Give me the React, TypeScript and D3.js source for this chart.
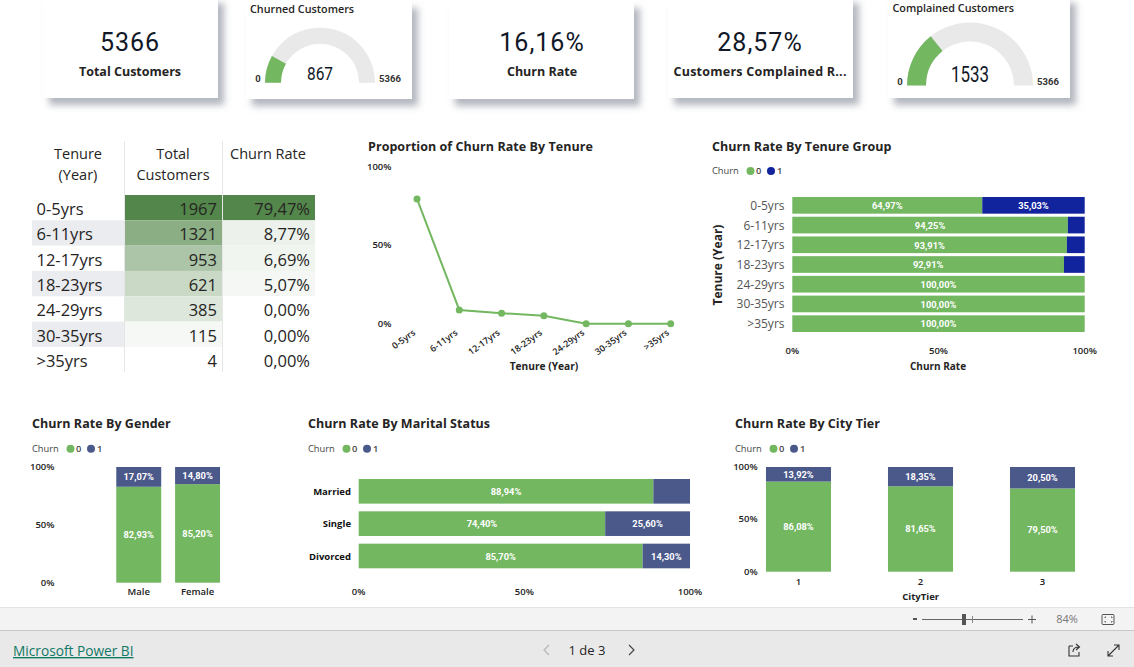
import React from "react";
import * as d3 from "d3";

const tenureGroups = ["0-5yrs", "6-11yrs", "12-17yrs", "18-23yrs", "24-29yrs", "30-35yrs", ">35yrs"];
const tenureCustomers = [1967, 1321, 953, 621, 385, 115, 4];
const tenureShare = [79.47, 8.77, 6.69, 5.07, 0, 0, 0];
const tenureChurn0 = [64.97, 94.25, 93.91, 92.91, 100, 100, 100];
const tenureChurn1 = [35.03, 5.75, 6.09, 7.09, 0, 0, 0];

const genders = ["Male", "Female"];
const genderChurn0 = [82.93, 85.2];
const genderChurn1 = [17.07, 14.8];

const maritalStatus = ["Married", "Single", "Divorced"];
const maritalChurn0 = [88.94, 74.4, 85.7];
const maritalChurn1 = [11.06, 25.6, 14.3];

const cityTiers = ["1", "2", "3"];
const cityChurn0 = [86.08, 81.65, 79.5];
const cityChurn1 = [13.92, 18.35, 20.5];

const percentTicks = [0, 50, 100];

const totalCustomers = 5366;
const churnedCustomers = 867;
const complainedCustomers = 1533;

const GREEN = "#73B761";
const BLUE = "#12239E";
const SLATE = "#4A588A";
const INK = "#252423";
const SANS = "'Open Sans', sans-serif";
const NUM = "Roboto, sans-serif";

const pct = (v: number) => v.toFixed(2).replace(".", ",") + "%";

const Card = ({ x, y, w, h }: any) => (
  <rect x={x} y={y} width={w} height={h} fill="#fff" filter="url(#cardShadow)" />
);

const Kpi = ({ cx, value, label, labelLen }: any) => (
  <g textAnchor="middle">
    <text x={cx} y={51} fontFamily={NUM} fontSize={25} letterSpacing={1} fill="#111827">{value}</text>
    <text x={cx} y={75.5} fontFamily={SANS} fontWeight={700} fontSize={12.5} textLength={labelLen} fill={INK}>{label}</text>
  </g>
);

const Gauge = ({ title, titleX, titleY, cx, cy, outer, inner, value, max, valueY, valueSize, valueLen, minX, maxX, labelY }: any) => {
  const angle = d3.scaleLinear().domain([0, max]).range([-Math.PI / 2, Math.PI / 2]);
  const arc: any = d3.arc().innerRadius(inner).outerRadius(outer);
  return (
    <g>
      <text x={titleX} y={titleY} fontFamily={SANS} fontWeight={600} fontSize={10.8} fill={INK}>{title}</text>
      <g transform={`translate(${cx},${cy})`}>
        <path d={arc({ startAngle: angle(0), endAngle: angle(max) })} fill="#E9E9E9" />
        <path d={arc({ startAngle: angle(0), endAngle: angle(value) })} fill={GREEN} />
      </g>
      <text x={cx} y={valueY} textAnchor="middle" fontFamily={NUM} fontSize={valueSize} textLength={valueLen} lengthAdjust="spacingAndGlyphs" fill="#111827">{value}</text>
      <text x={minX} y={labelY} textAnchor="middle" fontFamily={NUM} fontWeight={700} fontSize={9.5} fill="#333">0</text>
      <text x={maxX} y={labelY} textAnchor="middle" fontFamily={NUM} fontWeight={700} fontSize={9.5} fill="#333">{max}</text>
    </g>
  );
};

const Title = ({ x, y, children }: any) => (
  <text x={x} y={y} fontFamily={SANS} fontWeight={700} fontSize={12.5} letterSpacing={0.05} fill={INK}>{children}</text>
);

const Legend = ({ x, y, color }: any) => (
  <g fontFamily={SANS} fontSize={9.3} fill="#444">
    <text x={x} y={y + 3}>Churn</text>
    <circle cx={x + 38.5} cy={y} r={4} fill={GREEN} />
    <text x={x + 44} y={y + 3} fontWeight={600}>0</text>
    <circle cx={x + 59} cy={y} r={4} fill={color} />
    <text x={x + 65} y={y + 3} fontWeight={600}>1</text>
  </g>
);

const TickText = ({ x, y, anchor = "middle", children }: any) => (
  <text x={x} y={y} textAnchor={anchor} fontFamily={SANS} fontWeight={600} fontSize={9.5} fill="#222">{children}</text>
);

const ValueText = ({ x, y, children }: any) => (
  <text x={x} y={y} dy="0.35em" textAnchor="middle" fontFamily={NUM} fontWeight={700} fontSize={9.3} fill="#fff">{children}</text>
);

const stackOf = (cats: string[], a: number[], b: number[]) => {
  const rows = cats.map((c, i) => ({ cat: c, c0: a[i], c1: b[i] }));
  return d3.stack<any>().keys(["c0", "c1"])(rows);
};

const HBars = ({ cats, a, b, x0, x1, y0, y1, padding, color, minLabel = 12 }: any) => {
  const x = d3.scaleLinear().domain([0, 100]).range([x0, x1]);
  const y = d3.scaleBand<string>().domain(cats).range([y0, y1]).padding(padding);
  const layers = stackOf(cats, a, b);
  return (
    <g>
      {layers.map((layer, li) =>
        layer.map((d: any) => {
          const v = d[1] - d[0];
          const yy = y(d.data.cat) as number;
          return (
            <g key={`${li}-${d.data.cat}`}>
              <rect x={x(d[0])} y={yy} width={x(d[1]) - x(d[0])} height={y.bandwidth()} fill={li === 0 ? GREEN : color} />
              {v >= minLabel && <ValueText x={(x(d[0]) + x(d[1])) / 2} y={yy + y.bandwidth() / 2 + 0.5}>{pct(v)}</ValueText>}
            </g>
          );
        })
      )}
    </g>
  );
};

const VBars = ({ cats, a, b, x0, x1, y0, y1, padding, color, catY, labelX }: any) => {
  const x = d3.scaleBand<string>().domain(cats).range([x0, x1]).padding(padding);
  const y = d3.scaleLinear().domain([0, 100]).range([y0, y1]);
  const layers = stackOf(cats, a, b);
  return (
    <g>
      {percentTicks.map((t) => (
        <TickText key={t} x={labelX} y={y(t) + 3} anchor="end">{t}%</TickText>
      ))}
      {layers.map((layer, li) =>
        layer.map((d: any) => {
          const xx = x(d.data.cat) as number;
          return (
            <g key={`${li}-${d.data.cat}`}>
              <rect x={xx} y={y(d[1])} width={x.bandwidth()} height={y(d[0]) - y(d[1])} fill={li === 0 ? GREEN : color} />
              <ValueText x={xx + x.bandwidth() / 2} y={(y(d[0]) + y(d[1])) / 2}>{pct(d[1] - d[0])}</ValueText>
            </g>
          );
        })
      )}
      {cats.map((c: string) => (
        <TickText key={c} x={(x(c) as number) + x.bandwidth() / 2} y={catY}>{c}</TickText>
      ))}
    </g>
  );
};

const TenureTable = () => {
  const rowY = d3.scaleBand<string>().domain(tenureGroups).range([195, 372.2]);
  const custColor = d3.scaleLinear<string>().domain([0, 1967]).range(["#ffffff", "#53864A"]);
  const rateColor = d3.scaleLinear<string>().domain([0, 79.47]).range(["#ffffff", "#53864A"]);
  const h = rowY.bandwidth();
  return (
    <g fontFamily={SANS} fill={INK}>
      <g textAnchor="middle" fontSize={14.5}>
        <text x={78} y={158.5}>Tenure</text>
        <text x={78} y={180}>(Year)</text>
        <text x={173} y={158.5}>Total</text>
        <text x={173} y={180}>Customers</text>
        <text x={268} y={158.5}>Churn Rate</text>
      </g>
      {tenureGroups.map((g, i) => {
        const y = rowY(g) as number;
        const mid = y + h / 2 + 1.5;
        return (
          <g key={g} fontSize={16.5}>
            {i % 2 === 1 && <rect x={32} y={y} width={92} height={h} fill="#EBECEF" />}
            <rect x={125} y={y} width={97} height={h} fill={custColor(tenureCustomers[i])} />
            <rect x={223} y={y} width={92} height={h} fill={rateColor(tenureShare[i])} />
            <text x={36.5} y={mid} dy="0.35em">{g}</text>
            <text x={217} y={mid} dy="0.35em" textAnchor="end">{tenureCustomers[i]}</text>
            <text x={310} y={mid} dy="0.35em" textAnchor="end">{pct(tenureShare[i])}</text>
          </g>
        );
      })}
      <line x1={124.5} x2={124.5} y1={141} y2={372} stroke="#E6E6E6" />
      <line x1={222.5} x2={222.5} y1={141} y2={372} stroke="#E6E6E6" />
    </g>
  );
};

const TenureLine = () => {
  const x = d3.scalePoint<string>().domain(tenureGroups).range([417, 670.7]);
  const y = d3.scaleLinear().domain([0, 100]).range([323.7, 166.7]);
  const line: any = d3.line<number>().x((_, i) => x(tenureGroups[i]) as number).y((d) => y(d));
  return (
    <g>
      <Title x={368} y={150.5}>Proportion of Churn Rate By Tenure</Title>
      {percentTicks.map((t) => (
        <TickText key={t} x={391.5} y={y(t) + 3} anchor="end">{t}%</TickText>
      ))}
      <path d={line(tenureShare)} fill="none" stroke={GREEN} strokeWidth={2} />
      {tenureShare.map((v, i) => (
        <circle key={i} cx={x(tenureGroups[i])} cy={y(v)} r={3.5} fill={GREEN} />
      ))}
      {tenureGroups.map((g) => (
        <text key={g} transform={`translate(${(x(g) as number) - 1},${334}) rotate(-36)`} textAnchor="end" fontFamily={SANS} fontWeight={600} fontSize={9} fill="#222">{g}</text>
      ))}
      <text x={544} y={369.5} textAnchor="middle" fontFamily={SANS} fontWeight={700} fontSize={10.2} fill={INK}>Tenure (Year)</text>
    </g>
  );
};

const TenureBars = () => {
  const y = d3.scaleBand<string>().domain(tenureGroups).range([193.95, 335.05]).padding(0.155);
  const x = d3.scaleLinear().domain([0, 100]).range([792.3, 1084.7]);
  return (
    <g>
      <Title x={712} y={150.5}>Churn Rate By Tenure Group</Title>
      <Legend x={712} y={171} color={BLUE} />
      <HBars cats={tenureGroups} a={tenureChurn0} b={tenureChurn1} x0={792.3} x1={1084.7} y0={193.95} y1={335.05} padding={0.155} color={BLUE} />
      {tenureGroups.map((g) => (
        <text key={g} x={784.5} y={(y(g) as number) + y.bandwidth() / 2 + 0.5} dy="0.33em" textAnchor="end" fontFamily={SANS} fontSize={12} fill="#555">{g}</text>
      ))}
      <text transform="translate(722,265) rotate(-90)" textAnchor="middle" fontFamily={SANS} fontWeight={700} fontSize={12} fill={INK}>Tenure (Year)</text>
      {percentTicks.map((t) => (
        <TickText key={t} x={x(t)} y={353.5}>{t}%</TickText>
      ))}
      <text x={938} y={369.5} textAnchor="middle" fontFamily={SANS} fontWeight={700} fontSize={10} fill={INK}>Churn Rate</text>
    </g>
  );
};

const MaritalBars = () => {
  const y = d3.scaleBand<string>().domain(maritalStatus).range([471.3, 576]).padding(0.238);
  const x = d3.scaleLinear().domain([0, 100]).range([358.7, 690]);
  return (
    <g>
      <Title x={308} y={427.5}>Churn Rate By Marital Status</Title>
      <Legend x={308} y={448.7} color={SLATE} />
      <HBars cats={maritalStatus} a={maritalChurn0} b={maritalChurn1} x0={358.7} x1={690} y0={471.3} y1={576} padding={0.238} color={SLATE} />
      {maritalStatus.map((g) => (
        <text key={g} x={351} y={(y(g) as number) + y.bandwidth() / 2 + 0.5} dy="0.33em" textAnchor="end" fontFamily={SANS} fontWeight={700} fontSize={9.5} fill="#111">{g}</text>
      ))}
      {percentTicks.map((t) => (
        <TickText key={t} x={x(t)} y={595}>{t}%</TickText>
      ))}
    </g>
  );
};

const Footer = () => (
  <g>
    <rect x={0} y={607} width={1134} height={23} fill="#F3F3F3" />
    <line x1={0} x2={1134} y1={607.5} y2={607.5} stroke="#E3E3E3" />
    <rect x={0} y={630} width={1134} height={37} fill="#E9E9E9" />
    <line x1={0} x2={1134} y1={630.5} y2={630.5} stroke="#C8C8C8" />
    <rect x={913} y={618} width={4} height={2} fill="#555" />
    <line x1={922} x2={1023} y1={619.5} y2={619.5} stroke="#666" />
    <rect x={962} y={614} width={4} height={11} fill="#555" />
    <line x1={972.5} x2={972.5} y1={616} y2={623} stroke="#888" />
    <line x1={1028} x2={1036} y1={619.5} y2={619.5} stroke="#555" />
    <line x1={1032} x2={1032} y1={615.5} y2={623.5} stroke="#555" />
    <text x={1067} y={623} textAnchor="middle" fontFamily={SANS} fontSize={11} fill="#777">84%</text>
    <rect x={1102} y={614.5} width={12} height={10} rx={1} fill="none" stroke="#555" />
    <path d="M1105,618 v-1 h1 M1111,617 h1 v1 M1105,621 v1 h1 M1111,622 h1 v-1" fill="none" stroke="#555" />
    <text x={13} y={656} fontFamily={SANS} fontSize={13.7} fill="#117865" textDecoration="underline">Microsoft Power BI</text>
    <text x={587} y={655} textAnchor="middle" fontFamily={SANS} fontSize={13} fill="#252423">1 de 3</text>
    <path d="M549,645 L544,650 L549,655" fill="none" stroke="#B5B5B5" strokeWidth={1.2} />
    <path d="M629,645 L634,650 L629,655" fill="none" stroke="#444" strokeWidth={1.2} />
    <path d="M1069,646 h4 M1069,646 v10 h10 v-4 M1073,652 c0,-4 2,-5 6,-5 M1076,644 l3.5,3 l-3.5,3" fill="none" stroke="#333" strokeWidth={1.1} />
    <path d="M1108,656 L1119,645 M1114,645 h5 v5 M1108,651 v5 h5" fill="none" stroke="#333" strokeWidth={1.1} />
  </g>
);

const App = () => (
  <svg width={1134} height={667} style={{ position: "absolute", left: 0, top: 0, display: "block", background: "#fff" }}>
    <defs>
      <filter id="cardShadow" x="-10%" y="-10%" width="125%" height="130%">
        <feDropShadow dx={6} dy={7} stdDeviation={3.5} floodColor="#8A8F9C" floodOpacity={0.65} />
      </filter>
    </defs>

    <Card x={43} y={-4} w={175} h={102} />
    <Card x={246} y={1} w={166} h={98} />
    <Card x={449} y={1} w={185} h={98} />
    <Card x={668} y={-4} w={185} h={102} />
    <Card x={888} y={-4} w={182} h={102} />

    <Kpi cx={130} value={totalCustomers} label="Total Customers" />
    <Kpi cx={542} value="16,16%" label="Churn Rate" />
    <Kpi cx={760} value="28,57%" label="Customers Complained R..." labelLen={173} />
    <Gauge title="Churned Customers" titleX={250} titleY={13} cx={320} cy={82.7} outer={55} inner={39} value={churnedCustomers} max={totalCustomers} valueY={79.5} valueSize={19} valueLen={26} minX={258} maxX={390} labelY={81.5} />
    <Gauge title="Complained Customers" titleX={892.5} titleY={12} cx={970} cy={85.5} outer={63} inner={44} value={complainedCustomers} max={totalCustomers} valueY={81.5} valueSize={22} valueLen={38} minX={900} maxX={1048} labelY={85} />

    <TenureTable />
    <TenureLine />
    <TenureBars />

    <Title x={32} y={427.5}>Churn Rate By Gender</Title>
    <Legend x={32} y={448.7} color={SLATE} />
    <VBars cats={genders} a={genderChurn0} b={genderChurn1} x0={102.4} x1={233.9} y0={582.7} y1={467} padding={0.236} color={SLATE} catY={595} labelX={54.5} />

    <MaritalBars />

    <Title x={735} y={427.5}>Churn Rate By City Tier</Title>
    <Legend x={735} y={448.7} color={SLATE} />
    <VBars cats={cityTiers} a={cityChurn0} b={cityChurn1} x0={709} x1={1132} y0={571.7} y1={467} padding={0.467} color={SLATE} catY={584.5} labelX={757.7} />
    <text x={920.7} y={600} textAnchor="middle" fontFamily={SANS} fontWeight={700} fontSize={9.5} fill="#222">CityTier</text>

    <Footer />
  </svg>
);

export default App;
